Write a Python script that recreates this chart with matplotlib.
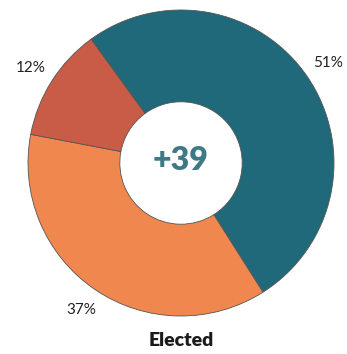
import matplotlib
matplotlib.use('Agg')
import matplotlib.pyplot as plt

# Shares of the vote, clockwise from the top
categories = ['For', 'Against', 'Undecided']
shares = [51, 37, 12]
colors = ['#20697a', '#f0874f', '#c85c47']
net_margin = '+39'
title = 'Elected'

plt.rcParams['font.family'] = ['Lato', 'DejaVu Sans']

W, H = 347, 354
fig = plt.figure(figsize=(W / 100, H / 100), dpi=100)
ax = fig.add_axes([0, 0, 1, 1])

cx, cy, r = 181, 191, 153
wedges, texts, autotexts = ax.pie(
    shares, colors=colors, center=(cx, cy), radius=r,
    startangle=126, counterclock=False,
    autopct='%.0f%%', pctdistance=1.16,
    wedgeprops=dict(width=r * 0.6, edgecolor='#555555', linewidth=0.6),
    textprops=dict(fontsize=11, color='#222222'),
    frame=True,
)
ax.set_xlim(0, W)
ax.set_ylim(0, H)
ax.set_aspect('equal')
ax.axis('off')

ax.text(cx, cy + 2, net_margin, ha='center', va='center', fontsize=23,
        fontweight='heavy', color='#3e7a86')
ax.text(cx, 14, title, ha='center', va='center', fontsize=14,
        fontweight='heavy', color='#1a1a1a')

fig.savefig('out.png', dpi=100)
